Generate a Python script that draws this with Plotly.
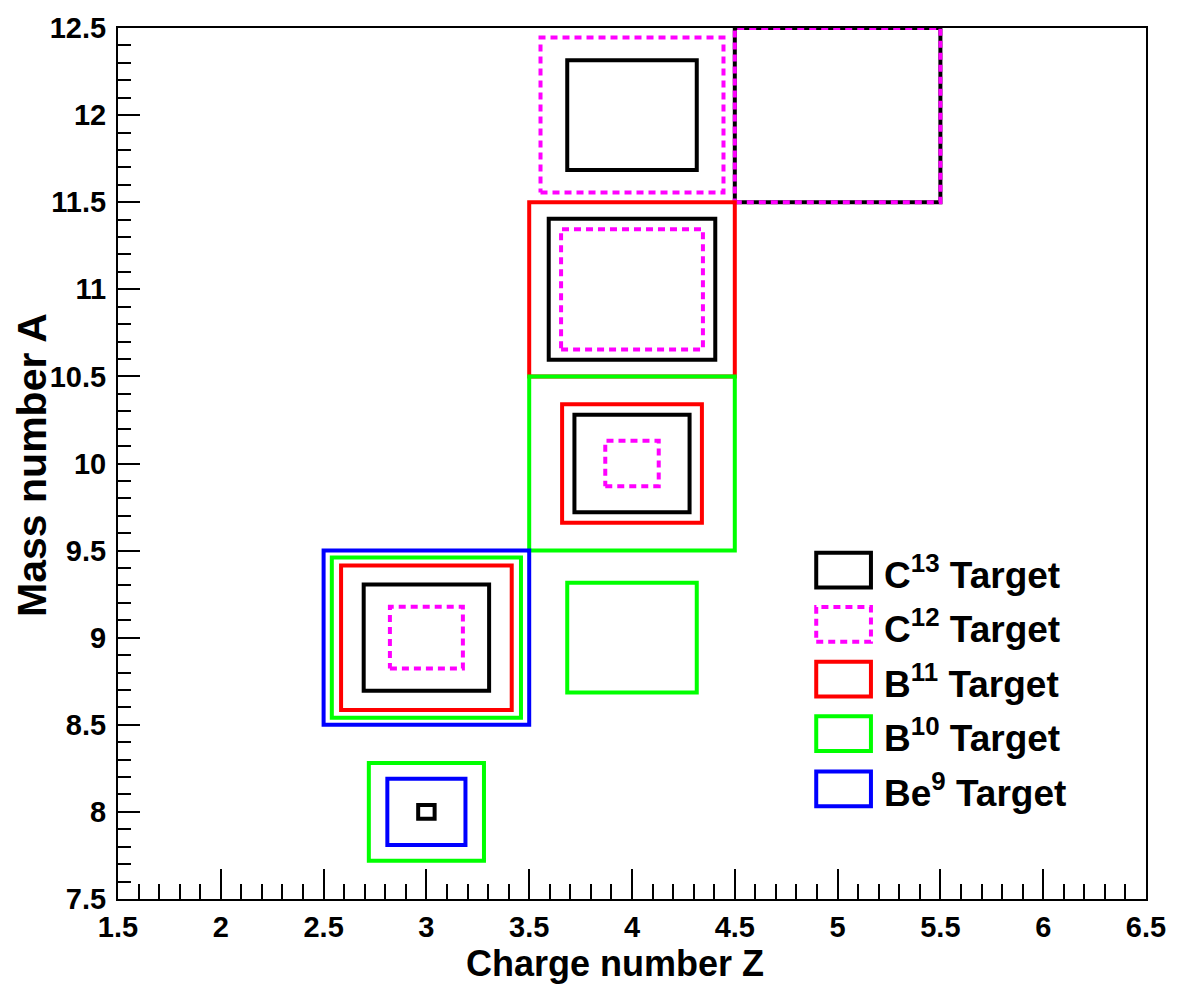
import plotly.graph_objects as go

# ---------------- data ----------------
targets = ["C13", "C12", "B11", "B10", "Be9"]
legend_labels = ["C<sup>13</sup> Target", "C<sup>12</sup> Target", "B<sup>11</sup> Target",
                 "B<sup>10</sup> Target", "Be<sup>9</sup> Target"]

# fragment charge Z, mass A, and relative box size (fraction of a bin) per target
c13_Z = [3, 3, 4, 4, 4, 5]
c13_A = [8, 9, 10, 11, 12, 12]
c13_S = [0.08, 0.61, 0.56, 0.81, 0.63, 1.0]

c12_Z = [3, 4, 4, 4, 5]
c12_A = [9, 10, 11, 12, 12]
c12_S = [0.355, 0.26, 0.69, 0.89, 1.0]

b11_Z = [3, 4, 4]
b11_A = [9, 10, 11]
b11_S = [0.83, 0.68, 1.0]

b10_Z = [3, 3, 4, 4]
b10_A = [8, 9, 9, 10]
b10_S = [0.56, 0.92, 0.63, 1.0]

be9_Z = [3, 3]
be9_A = [8, 9]
be9_S = [0.38, 1.0]

series = [(c13_Z, c13_A, c13_S), (c12_Z, c12_A, c12_S), (b11_Z, b11_A, b11_S),
          (b10_Z, b10_A, b10_S), (be9_Z, be9_A, be9_S)]

# ---------------- styles ----------------
colors = ["#000000", "#ff00ff", "#ff0000", "#00ff00", "#0000ff"]
dashes = ["solid", "7px,5px", "solid", "solid", "solid"]
LW = 4
FONT = "Liberation Sans"

W, H = 1178, 986
ML, MR, MT, MB = 118, 21, 22, 87
PW, PH = W - ML - MR, H - MT - MB


def px2paper_x(px):
    return (px - ML) / PW


def px2paper_y(py):
    return (H - MB - py) / PH


def boxes(zs, as_, ss, dash):
    xs, ys = [], []
    for z, a, s in zip(zs, as_, ss):
        h = s / 2.0
        bx = [z - h, z + h, z + h, z - h, z - h]
        by = [a - h, a - h, a + h, a + h, a - h]
        if dash == "solid":
            bx.append(z + h)
            by.append(a - h)
        xs += bx + [None]
        ys += by + [None]
    return xs, ys


fig = go.Figure()
for (zs, as_, ss), col, dash, name in zip(series, colors, dashes, targets):
    xs, ys = boxes(zs, as_, ss, dash)
    fig.add_trace(go.Scatter(x=xs, y=ys, mode="lines", name=name,
                             line=dict(color=col, width=LW, dash=dash),
                             showlegend=False, hoverinfo="skip"))

# ---------------- custom legend (ROOT style boxes) ----------------
row_centers = [567.8, 622.5, 677.5, 732.5, 788.0]
box_x0, box_x1 = 823.7, 879.0
box_hh = 17.5
text_x = 890
shapes = []
annotations = []
for yc, col, dash, lab in zip(row_centers, colors, dashes, legend_labels):
    shapes.append(dict(type="rect", xref="paper", yref="paper",
                       x0=px2paper_x(box_x0), x1=px2paper_x(box_x1),
                       y0=px2paper_y(yc + box_hh), y1=px2paper_y(yc - box_hh),
                       line=dict(color=col, width=LW, dash=dash),
                       fillcolor="rgba(0,0,0,0)"))
    annotations.append(dict(text=lab, xref="paper", yref="paper",
                            x=px2paper_x(text_x), y=px2paper_y(yc + 2),
                            xanchor="left", yanchor="middle", showarrow=False,
                            font=dict(family=FONT, size=37, color="black", weight="bold")))

# axis titles
annotations.append(dict(text="Charge number Z", xref="paper", yref="paper",
                        x=px2paper_x(620), y=px2paper_y(986), xanchor="center", yanchor="bottom",
                        showarrow=False, borderpad=0,
                        font=dict(family=FONT, size=36, color="black", weight="bold")))
annotations.append(dict(text="Mass number A", xref="paper", yref="paper",
                        x=px2paper_x(31), y=px2paper_y(462), xanchor="center", yanchor="middle",
                        textangle=-90, showarrow=False,
                        font=dict(family=FONT, size=41, color="black", weight="bold")))

tickfont = dict(family=FONT, size=29, color="black", weight="bold")
fig.update_layout(
    width=W, height=H,
    margin=dict(l=ML, r=MR, t=MT, b=MB, pad=0),
    paper_bgcolor="white", plot_bgcolor="white",
    showlegend=False,
    shapes=shapes, annotations=annotations,
    xaxis=dict(range=[1.5, 6.5], tick0=1.5, dtick=0.5, ticks="inside", ticklen=30,
               tickwidth=2, tickcolor="black", showgrid=False, zeroline=False,
               showline=True, linecolor="black", linewidth=2, mirror=True,
               tickfont=tickfont, ticklabelstandoff=1, ticklabeloverflow="allow",
               minor=dict(dtick=0.1, tick0=1.5, ticks="inside", ticklen=15,
                          tickwidth=2, tickcolor="black", showgrid=False)),
    yaxis=dict(range=[7.5, 12.5], tick0=7.5, dtick=0.5, ticks="inside", ticklen=22,
               tickwidth=2, tickcolor="black", showgrid=False, zeroline=False,
               showline=True, linecolor="black", linewidth=2, mirror=True,
               tickfont=tickfont, ticklabelstandoff=4, ticklabeloverflow="allow",
               minor=dict(dtick=0.1, tick0=7.5, ticks="inside", ticklen=13,
                          tickwidth=2, tickcolor="black", showgrid=False)),
)

fig.write_html("out.html")
